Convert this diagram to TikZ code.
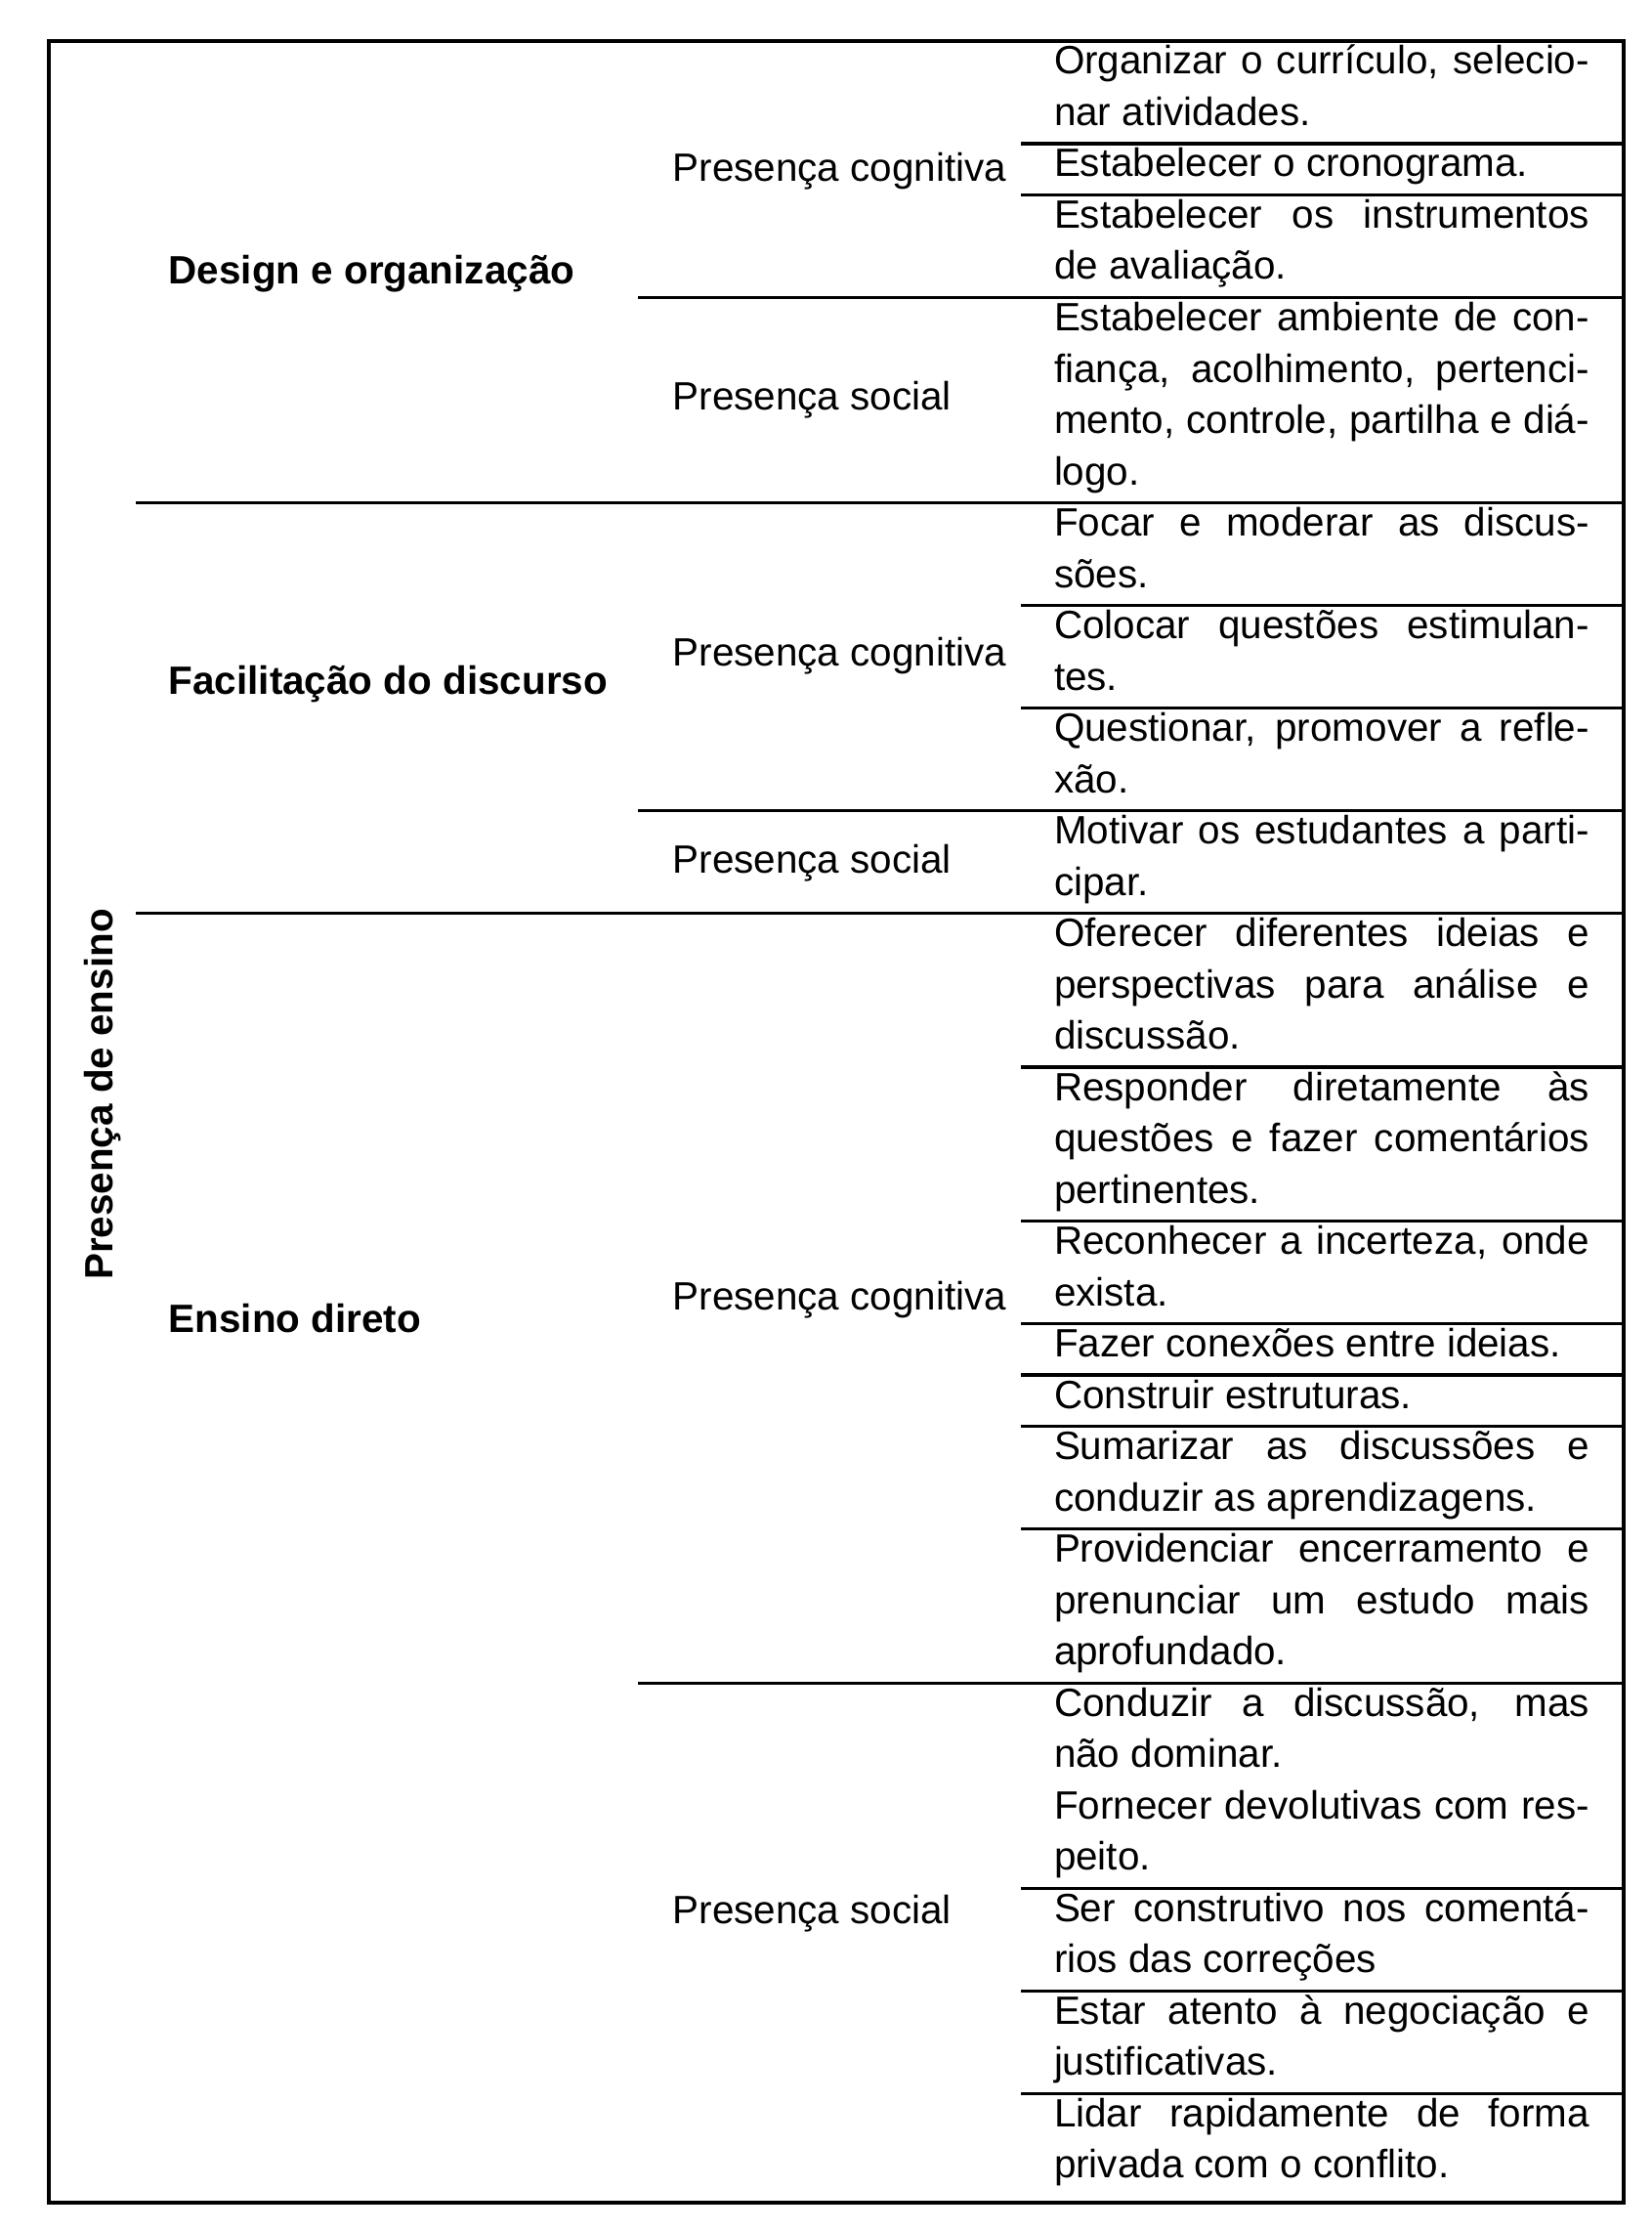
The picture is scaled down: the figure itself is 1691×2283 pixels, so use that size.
\documentclass[tikz,border=0pt]{standalone}
\usepackage{fontspec}
\setmainfont{Liberation Sans}
\usetikzlibrary{positioning}
\newcommand{\cellstrut}{\rule[-5.28pt]{0pt}{14.94pt}}

\begin{document}
\begin{tikzpicture}[x=0.1mm, y=-0.1mm,
  cell/.style = {anchor=north west, inner sep=0pt, outer sep=0pt, text width=54.8mm, align=justify, font=\fontsize{11.5}{14.94}\selectfont},
  under/.style = {below=0pt of #1.south west, anchor=north west},
  sub/.style = {anchor=base west, inner sep=0pt, font=\fontsize{11.5}{14.94}\selectfont},
  cat/.style = {sub, font=\fontsize{11.5}{14.94}\selectfont\bfseries},
  hline/.style = {line width=1pt}]
\useasboundingbox (0,0) rectangle (1691,2283);
\coordinate (tl) at (50,42);
\coordinate (br) at (1662,2254);
\draw[hline] (tl) rectangle (br);

% first level
\node[cat, rotate=90, anchor=base] (pe) at (115,1120) {Presença de ensino};
\node[cat] (d) at (172,290) {Design e organização};
\node[cat] (f) at (172,710) {Facilitação do discurso};
\node[cat] (e) at (172,1363) {Ensino direto};

% second level
\node[sub] (c1) at (688,185) {Presença cognitiva};
\node[sub] (s1) at (688,419) {Presença social};
\node[sub] (c2) at (688,681) {Presença cognitiva};
\node[sub] (s2) at (688,893) {Presença social};
\node[sub] (c3) at (688,1340) {Presença cognitiva};
\node[sub] (s3) at (688,1968) {Presença social};

% actions
\node[cell] (r1) at (1079,42) {\cellstrut Organizar o currículo, selecio-\linebreak nar atividades.\cellstrut};
\node[cell, under=r1] (r2) {\cellstrut Estabelecer o cronograma.\cellstrut};
\node[cell, under=r2] (r3) {\cellstrut Estabelecer os instrumentos\linebreak de avaliação.\cellstrut};
\node[cell, under=r3] (r4) {\cellstrut Estabelecer ambiente de con-\linebreak fiança, acolhimento, pertenci-\linebreak mento, controle, partilha e diá-\linebreak logo.\cellstrut};
\node[cell, under=r4] (r5) {\cellstrut Focar e moderar as discus-\linebreak sões.\cellstrut};
\node[cell, under=r5] (r6) {\cellstrut Colocar questões estimulan-\linebreak tes.\cellstrut};
\node[cell, under=r6] (r7) {\cellstrut Questionar, promover a refle-\linebreak xão.\cellstrut};
\node[cell, under=r7] (r8) {\cellstrut Motivar os estudantes a parti-\linebreak cipar.\cellstrut};
\node[cell, under=r8] (r9) {\cellstrut Oferecer diferentes ideias e\linebreak perspectivas para análise e\linebreak discussão.\cellstrut};
\node[cell, under=r9] (r10) {\cellstrut Responder diretamente às\linebreak questões e fazer comentários\linebreak pertinentes.\cellstrut};
\node[cell, under=r10] (r11) {\cellstrut Reconhecer a incerteza, onde\linebreak exista.\cellstrut};
\node[cell, under=r11] (r12) {\cellstrut Fazer conexões entre ideias.\cellstrut};
\node[cell, under=r12] (r13) {\cellstrut Construir estruturas.\cellstrut};
\node[cell, under=r13] (r14) {\cellstrut Sumarizar as discussões e\linebreak conduzir as aprendizagens.\cellstrut};
\node[cell, under=r14] (r15) {\cellstrut Providenciar encerramento e\linebreak prenunciar um estudo mais\linebreak aprofundado.\cellstrut};
\node[cell, under=r15] (r16a) {\cellstrut Conduzir a discussão, mas\linebreak não dominar.\cellstrut};
\node[cell, under=r16a] (r16b) {\cellstrut Fornecer devolutivas com res-\linebreak peito.\cellstrut};
\node[cell, under=r16b] (r17) {\cellstrut Ser construtivo nos comentá-\linebreak rios das correções\cellstrut};
\node[cell, under=r17] (r18) {\cellstrut Estar atento à negociação e\linebreak justificativas.\cellstrut};
\node[cell, under=r18] (r19) {\cellstrut Lidar rapidamente de forma\linebreak privada com o conflito.\cellstrut};

% rules under the rows
\foreach \r/\x in {r1/1045, r2/1045, r3/653, r4/139, r5/1045, r6/1045, r7/653, r8/139,
    r9/1045, r10/1045, r11/1045, r12/1045, r13/1045, r14/1045, r15/653,
    r16b/1045, r17/1045, r18/1045}
  \draw[hline] (\x,0 |- \r.south) -- (br |- \r.south);
\end{tikzpicture}
\end{document}
